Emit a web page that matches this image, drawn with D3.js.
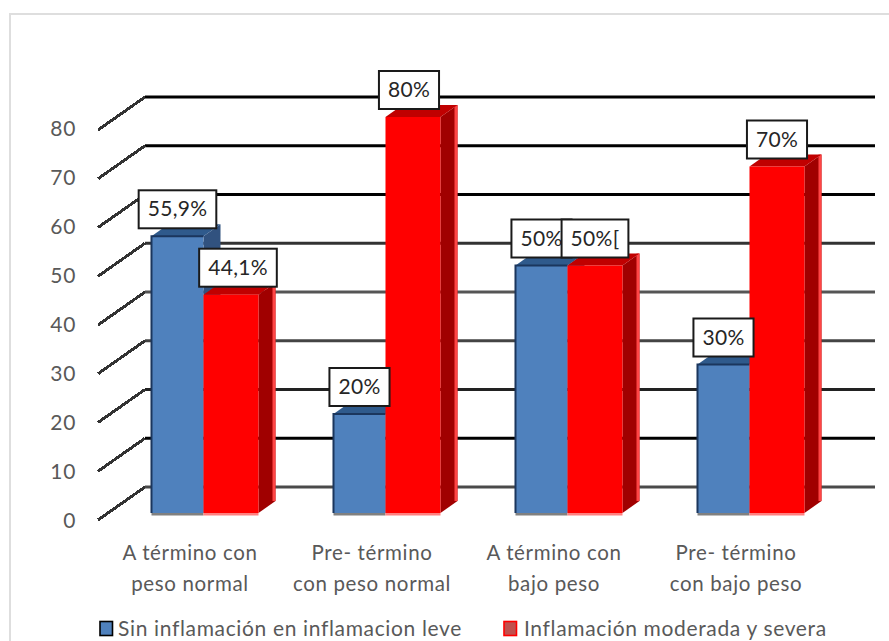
<!DOCTYPE html>
<html>
<head>
<meta charset="utf-8">
<script src="https://cdn.jsdelivr.net/npm/d3@7"></script>
<style>
  html, body { margin: 0; padding: 0; background: #fff; }
  svg { display: block; font-family: Lato, sans-serif; letter-spacing: 0.65px; }
</style>
</head>
<body>
<svg id="chart" width="889" height="641"></svg>
<script>
const categories = [
  ["A término con", "peso normal"],
  ["Pre- término", "con peso normal"],
  ["A término con", "bajo peso"],
  ["Pre- término", "con bajo peso"],
];
const seriesNames = ["Sin inflamación en inflamacion leve", "Inflamación moderada y severa"];
const sinInflamacion = [55.9, 20, 50, 30];
const moderadaSevera = [44.1, 80, 50, 70];
const sinLabels = ["55,9%", "20%", "50%", "30%"];
const moderadaLabels = ["44,1%", "80%", "50%[", "70%"];
const yTicks = [0, 10, 20, 30, 40, 50, 60, 70, 80];

const depth = { x: 17, y: 12 };
const wall = { left: 145, right: 875, dx: 47, dy: 33 };
const serie = [{ dx: 0, w: 52 }, { dx: 52, w: 55 }];

const svg = d3.select("#chart");

// chart area border
svg.append("rect")
  .attr("x", 10).attr("y", 14)
  .attr("width", 900).attr("height", 700)
  .attr("fill", "#fff")
  .attr("stroke", "#dedede")
  .attr("stroke-width", 2);

const keys = categories.map((d) => d.join(" "));
const x0 = d3.scaleBand().domain(keys).range([114, 842]).paddingInner(0.412).paddingOuter(0.206);
const yBar = d3.scaleLinear().domain([0, 80]).range([513, 117]);
const yWall = d3.scaleLinear().domain([0, 80]).range([487, 97]);
const yFront = d3.scaleLinear().domain([0, 80]).range([521, 129]);

// back wall gridlines and the slanted side wall lines
const grid = svg.append("g").attr("fill", "none");
const gridShade = d3.scaleOrdinal().domain(yTicks)
  .range(["#4a4a4a", "#000", "#222", "#444", "#555", "#333", "#000", "#000", "#000"]);
grid.selectAll("path.back")
  .data(yTicks)
  .join("path")
  .attr("class", "back")
  .attr("d", (d) => d3.line()([[wall.left, yWall(d)], [wall.right, yWall(d)]]))
  .attr("stroke", gridShade)
  .attr("stroke-width", 3);
grid.selectAll("path.side")
  .data(yTicks)
  .join("path")
  .attr("class", "side")
  .attr("d", (d) => d3.line()([
    [wall.left - wall.dx, yWall(d) + wall.dy],
    [wall.left, yWall(d)],
  ]))
  .attr("stroke", "#333")
  .attr("stroke-width", 3)
  .attr("shape-rendering", "crispEdges");

// value axis along the front edge of the side wall
svg.append("g")
  .attr("transform", `translate(${wall.left - wall.dx},0)`)
  .call(d3.axisLeft(yFront).tickValues(yTicks).tickSize(0).tickPadding(22))
  .call((g) => g.select(".domain").remove())
  .call((g) => g.selectAll("text")
    .attr("fill", "#595959")
    .style("font-family", "Lato, sans-serif")
    .style("font-size", "21px"));

const colors = [
  { front: "#4f81bd", top: "#2f5a8c", side: "#31527f", edge: "#1b365d", base: "#808080" },
  { front: "#ff0000", top: "#c00000", side: "#a00000", edge: "#ff4545", base: "#ff8080" },
];

const bars = [];
categories.forEach((c, i) => {
  bars.push({ key: keys[i], s: 0, value: sinInflamacion[i], label: sinLabels[i] });
  bars.push({ key: keys[i], s: 1, value: moderadaSevera[i], label: moderadaLabels[i] });
});

const barX = (d) => x0(d.key) + serie[d.s].dx;
const barW = (d) => serie[d.s].w;
const poly = (pts) => pts.map((p) => p.join(",")).join(" ");

const barG = svg.append("g")
  .selectAll("g")
  .data(bars)
  .join("g");

// base shadow below the front face
barG.append("rect")
  .attr("x", barX)
  .attr("y", yBar(0))
  .attr("width", barW)
  .attr("height", 2.5)
  .attr("fill", (d) => colors[d.s].base);

// side face, with a bright strip on the red bars' right edge
barG.append("polygon")
  .attr("points", (d) => {
    const r = barX(d) + barW(d);
    return poly([[r, yBar(d.value)], [r + depth.x, yBar(d.value) - depth.y],
      [r + depth.x, yBar(0) - depth.y], [r, yBar(0)]]);
  })
  .attr("fill", (d) => colors[d.s].side);
barG.filter((d) => d.s === 1).append("rect")
  .attr("x", (d) => barX(d) + barW(d) + depth.x - 3)
  .attr("y", (d) => yBar(d.value) - depth.y)
  .attr("width", 3)
  .attr("height", (d) => yBar(0) - yBar(d.value))
  .attr("fill", (d) => colors[d.s].edge);

// top face
barG.append("polygon")
  .attr("points", (d) => {
    const l = barX(d);
    const r = l + barW(d);
    const t = yBar(d.value);
    return poly([[l, t], [l + depth.x, t - depth.y], [r + depth.x, t - depth.y], [r, t]]);
  })
  .attr("fill", (d) => colors[d.s].top);

// front face
barG.append("rect")
  .attr("x", barX)
  .attr("y", (d) => yBar(d.value))
  .attr("width", barW)
  .attr("height", (d) => yBar(0) - yBar(d.value))
  .attr("fill", (d) => colors[d.s].front);

// dark outline on the blue bars' left and top edges
barG.filter((d) => d.s === 0).append("path")
  .attr("d", (d) => d3.line()([
    [barX(d), yBar(0)],
    [barX(d), yBar(d.value)],
    [barX(d) + barW(d), yBar(d.value)],
  ]))
  .attr("fill", "none")
  .attr("stroke", colors[0].edge)
  .attr("stroke-width", 2);

// boxed value labels, a couple nudged sideways by hand
const labelNudge = { "44,1%": 7, "80%": -4 };
const labelG = svg.append("g")
  .selectAll("g")
  .data(bars)
  .join("g")
  .attr("transform", (d) => {
    const cx = barX(d) + barW(d) / 2 + (labelNudge[d.label] || 0);
    return `translate(${cx},${yBar(d.value) - 8})`;
  });
const boxes = labelG.append("rect")
  .attr("y", -38)
  .attr("height", 38)
  .attr("fill", "#fff")
  .attr("stroke", "#1a1a1a")
  .attr("stroke-width", 2);
const labelText = labelG.append("text")
  .attr("y", -12)
  .attr("text-anchor", "middle")
  .attr("fill", "#262626")
  .style("font-size", "21px")
  .style("letter-spacing", "0.3px")
  .text((d) => d.label);
boxes.each(function (d, i) {
  const w = labelText.nodes()[i].getComputedTextLength() + 18;
  d3.select(this).attr("x", -w / 2).attr("width", w);
});

// category labels
const catLabels = svg.append("g")
  .selectAll("text")
  .data(categories)
  .join("text")
  .attr("text-anchor", "middle")
  .attr("fill", "#595959")
  .style("font-size", "20.5px")
  .attr("transform", (d, i) => `translate(${x0(keys[i]) + x0.bandwidth() / 2 - 15},0)`);
catLabels.selectAll("tspan")
  .data((d) => d)
  .join("tspan")
  .attr("x", 0)
  .attr("y", (d, i) => 560 + i * 31)
  .text((d) => d);

// legend
const legendPos = [
  { box: 100, text: 118 },
  { box: 504, text: 524 },
];
const legend = svg.append("g")
  .selectAll("g")
  .data(seriesNames)
  .join("g");
legend.append("rect")
  .attr("x", (d, i) => legendPos[i].box)
  .attr("y", 621.5)
  .attr("width", 12.5)
  .attr("height", 14)
  .attr("fill", (d, i) => (i === 0 ? "#4f81bd" : "#c0504d"))
  .attr("stroke", (d, i) => (i === 0 ? "#000" : "#ff0000"))
  .attr("stroke-width", 1.6);
legend.append("text")
  .attr("x", (d, i) => legendPos[i].text)
  .attr("y", 636)
  .attr("fill", "#595959")
  .style("font-size", "21px")
  .text((d) => d);
</script>
</body>
</html>
